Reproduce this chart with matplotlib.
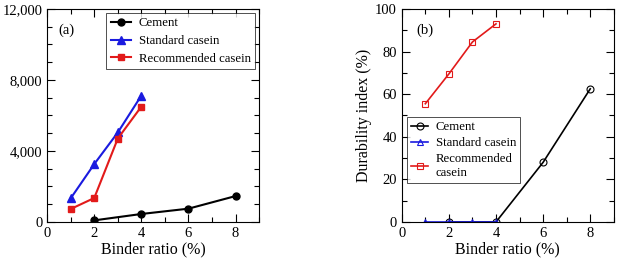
import matplotlib
matplotlib.use('Agg')
import matplotlib.pyplot as plt
from matplotlib.ticker import FuncFormatter, MultipleLocator

plt.rcParams['font.family'] = ['Liberation Serif', 'DejaVu Serif']
plt.rcParams['xtick.direction'] = 'in'
plt.rcParams['ytick.direction'] = 'in'

# (a) left panel
cement_x_a = [2, 4, 6, 8]
cement_y_a = [90, 450, 750, 1460]
standard_x_a = [1, 2, 3, 4]
standard_y_a = [1330, 3260, 5040, 7120]
recommended_x_a = [1, 2, 3, 4]
recommended_y_a = [730, 1350, 4700, 6500]

# (b) right panel - durability index
cement_x_b = [2, 4, 6, 8]
cement_y_b = [0, 0, 28, 62.5]
standard_x_b = [1, 2, 3, 4]
standard_y_b = [0, 0, 0, 0]
recommended_x_b = [1, 2, 3, 4]
recommended_y_b = [55.5, 69.5, 84.5, 93]

fig = plt.figure(figsize=(6.2, 2.63), dpi=100)
ax1 = fig.add_axes([0.076, 0.156, 0.342, 0.81])
ax2 = fig.add_axes([0.648, 0.156, 0.342, 0.81])

ax1.plot(cement_x_a, cement_y_a, color='black', marker='o', ms=5, lw=1.5, label='Cement')
ax1.plot(standard_x_a, standard_y_a, color='#1a1adf', marker='^', ms=5.5, lw=1.5, label='Standard casein')
ax1.plot(recommended_x_a, recommended_y_a, color='#e21a1a', marker='s', ms=5, lw=1.5, label='Recommended casein')
ax1.set_xlim(0, 9)
ax1.set_ylim(0, 12000)
ax1.xaxis.set_major_locator(MultipleLocator(2))
ax1.xaxis.set_minor_locator(MultipleLocator(1))
ax1.yaxis.set_major_locator(MultipleLocator(4000))
ax1.yaxis.set_minor_locator(MultipleLocator(1000))
ax1.yaxis.set_major_formatter(FuncFormatter(lambda v, p: f'{int(v):,}'))
ax1.set_xlabel('Binder ratio (%)', fontsize=11.5, labelpad=1)
ax1.text(0.055, 0.93, '(a)', transform=ax1.transAxes, fontsize=10.5, va='top')
leg1 = ax1.legend(loc='upper right', fontsize=9.2, fancybox=False, edgecolor='black',
                  borderaxespad=0.3, handlelength=1.6, labelspacing=0.45,
                  borderpad=0.35, handletextpad=0.6)
leg1.get_frame().set_linewidth(0.6)

ax2.plot(cement_x_b, cement_y_b, color='black', marker='o', ms=5, mfc='none', mew=0.8, lw=1.2, label='Cement')
ax2.plot(standard_x_b, standard_y_b, color='#1a1adf', marker='^', ms=5, mfc='none', mew=0.8, lw=1.2,
         label='Standard casein')
ax2.plot(recommended_x_b, recommended_y_b, color='#e21a1a', marker='s', ms=5, mfc='none', mew=0.8, lw=1.2,
         label='Recommended\ncasein')
ax2.set_xlim(0, 9)
ax2.set_ylim(0, 100)
ax2.xaxis.set_major_locator(MultipleLocator(2))
ax2.xaxis.set_minor_locator(MultipleLocator(1))
ax2.yaxis.set_major_locator(MultipleLocator(20))
ax2.yaxis.set_minor_locator(MultipleLocator(10))
ax2.set_xlabel('Binder ratio (%)', fontsize=11.5, labelpad=1)
ax2.set_ylabel('Durability index (%)', fontsize=11.5, labelpad=2)
ax2.text(0.07, 0.93, '(b)', transform=ax2.transAxes, fontsize=10.5, va='top')
leg2 = ax2.legend(loc='upper left', bbox_to_anchor=(0.024, 0.493), fontsize=9.2, fancybox=False,
                  edgecolor='black', borderaxespad=0.0, handlelength=1.3, labelspacing=0.3,
                  borderpad=0.35, handletextpad=0.6)
leg2.get_frame().set_linewidth(0.6)

for ax in (ax1, ax2):
    ax.tick_params(which='both', top=True, right=True, labelsize=10.5, width=0.8)
    ax.tick_params(which='major', length=6)
    ax.tick_params(which='minor', length=3.5)
    for s in ax.spines.values():
        s.set_linewidth(0.8)

fig.savefig('out.png', dpi=100)
